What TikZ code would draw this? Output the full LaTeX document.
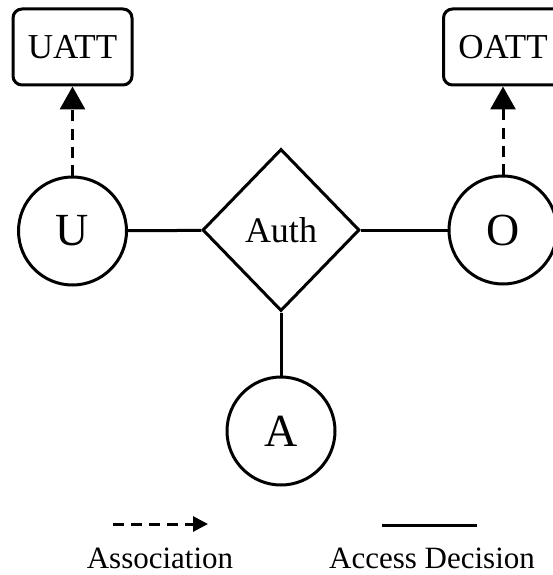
\documentclass[tikz,border=0pt]{standalone}
\usepackage{fontspec}
\setmainfont{Liberation Serif}
\usetikzlibrary{shapes.geometric,arrows.meta}

\tikzset{
  edgeline/.style={line width=3pt},
  entity/.style={circle, draw, line width=3pt, minimum size=108pt, inner sep=0pt, font=\fontsize{46}{46}\selectfont},
  attrbox/.style={rectangle, rounded corners=9pt, draw, line width=3pt, minimum width=119pt, minimum height=76pt, inner sep=0pt, font=\fontsize{35}{35}\selectfont},
  relation/.style={diamond, aspect=1, draw, line width=3pt, minimum width=157pt, minimum height=162pt, inner sep=0pt, font=\fontsize{36}{36}\selectfont},
  assoc/.style={edgeline, dash pattern=on 11pt off 7pt},
  legendtext/.style={font=\fontsize{31}{31}\selectfont, anchor=base, inner sep=0pt}
}

\begin{document}
\begin{tikzpicture}[x=1pt, y=-1pt]
  \useasboundingbox (0,0) rectangle (553,575);
  \clip (0,0) rectangle (553,575);

  % attribute boxes
  \node[attrbox] (uatt) at (72.5,47) {UATT};
  \node[attrbox] (oatt) at (503,47) {OATT};

  % entities and the authorization relation
  \node[entity] (u) at (72.5,231) {U};
  \node[entity] (o) at (503,230) {O};
  \node[relation] (auth) at (281,230) {Auth};
  \node[entity] (a) at (281,431) {A};

  % access decision links
  \draw[edgeline] (u) -- (auth);
  \draw[edgeline] (auth) -- (o);
  \draw[edgeline] (auth) -- (a);

  % attribute associations
  \draw[assoc, -{Triangle[length=23pt, width=25pt]}] (u) -- (uatt);
  \draw[assoc, -{Triangle[length=23pt, width=25pt]}] (o) -- (oatt);

  % legend
  \coordinate (la1) at (113,524);
  \coordinate (la2) at (208,524);
  \coordinate (ld1) at (382,525);
  \coordinate (ld2) at (477,525);
  \draw[assoc, -{Triangle[length=15pt, width=15pt]}] (la1) -- (la2);
  \draw[edgeline] (ld1) -- (ld2);
  \node[legendtext] (lassoc) at (160,568) {Association};
  \node[legendtext] (ldec) at (432,568) {Access Decision};
\end{tikzpicture}
\end{document}
